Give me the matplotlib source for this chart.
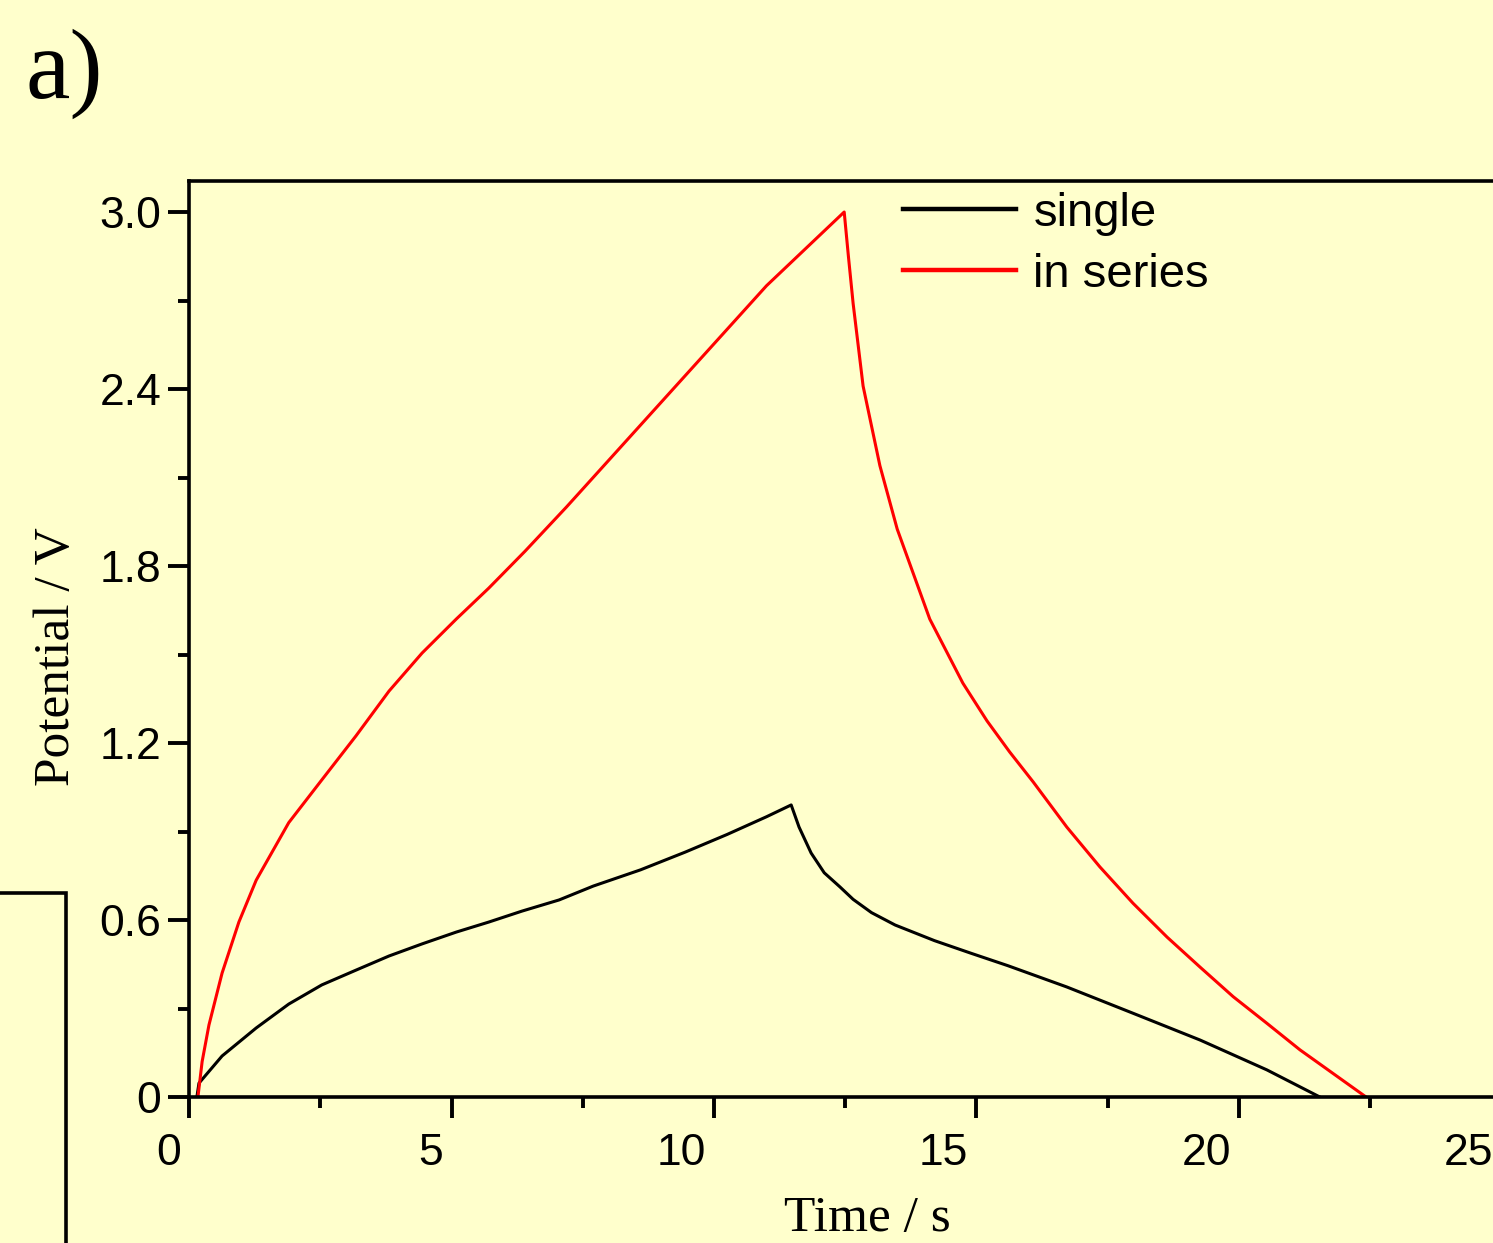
import matplotlib
matplotlib.use("Agg")
import matplotlib.pyplot as plt
from matplotlib.patches import Rectangle
from matplotlib.ticker import MultipleLocator
from matplotlib.transforms import ScaledTranslation

# time [s] / potential [V]
single_t = [0.15, 0.19, 0.63, 1.28, 1.9, 2.53, 3.18, 3.81, 4.44, 5.09, 5.71, 6.34, 7.05, 7.7,
            8.6, 9.45, 10.25, 11.0, 11.47, 11.62, 11.85, 12.1, 12.4, 12.65, 13.0, 13.45,
            14.2, 14.9, 15.6, 16.72, 17.98, 19.26, 20.53, 21.54]
single_v = [0.0, 0.047, 0.139, 0.234, 0.315, 0.38, 0.43, 0.478, 0.519, 0.559, 0.593, 0.63, 0.668,
            0.715, 0.77, 0.83, 0.89, 0.95, 0.99, 0.915, 0.827, 0.76, 0.712, 0.67, 0.625, 0.583,
            0.53, 0.487, 0.445, 0.373, 0.284, 0.193, 0.092, 0.0]

series_t = [0.17, 0.25, 0.38, 0.63, 0.95, 1.28, 1.9, 2.53, 3.18, 3.81, 4.44, 5.09, 5.71, 6.4,
            7.19, 8.46, 9.73, 11.0, 12.48, 12.56, 12.65, 12.84, 13.16, 13.49, 14.11, 14.74,
            15.2, 15.63, 16.08, 16.72, 17.35, 17.98, 18.63, 19.26, 19.89, 20.53, 21.16, 21.79,
            22.42]
series_v = [0.0, 0.12, 0.244, 0.42, 0.593, 0.735, 0.93, 1.075, 1.224, 1.376, 1.505, 1.62, 1.725,
            1.85, 2.0, 2.25, 2.5, 2.75, 3.0, 2.85, 2.69, 2.41, 2.14, 1.925, 1.62, 1.403,
            1.275, 1.17, 1.068, 0.915, 0.78, 0.657, 0.542, 0.44, 0.34, 0.25, 0.16, 0.08, 0.0]

y_ticks = [0, 0.6, 1.2, 1.8, 2.4, 3.0]
y_labels = ["0", "0.6", "1.2", "1.8", "2.4", "3.0"]
x_ticks = [0, 5, 10, 15, 20, 25]

bg = "#ffffcc"
W, H = 1493, 1243
fig = plt.figure(figsize=(W / 100, H / 100), dpi=100, facecolor=bg)

x_max = 25.5
px_per_s = 52.5
ax_w = x_max * px_per_s
ax = fig.add_axes([189 / W, 1 - 1097 / H, ax_w / W, (1097 - 181) / H])
ax.set_facecolor(bg)

ax.plot(single_t, single_v, color="black", lw=2.2, label="single")
ax.plot(series_t, series_v, color="#ff0000", lw=2.2, label="in series")

ax.set_xlim(0, x_max)
ax.set_ylim(0, (1097 - 181) / 295)

for s in ax.spines.values():
    s.set_linewidth(2.6)

ax.set_xticks(x_ticks)
ax.set_xticklabels([str(v) for v in x_ticks], ha="right")
ax.set_yticks(y_ticks)
ax.set_yticklabels(y_labels)
ax.xaxis.set_minor_locator(MultipleLocator(2.5))
ax.yaxis.set_minor_locator(MultipleLocator(0.3))
ax.tick_params(which="major", direction="out", length=15, width=2.8)
ax.tick_params(which="minor", direction="out", length=8, width=2.8)
ax.tick_params(axis="x", which="major", pad=11)
ax.tick_params(axis="y", which="major", pad=5)
shift = ScaledTranslation(-0.08, 0, fig.dpi_scale_trans)
for lab in ax.get_xticklabels():
    lab.set_transform(lab.get_transform() + shift)
for lab in ax.get_xticklabels() + ax.get_yticklabels():
    lab.set_fontfamily("Liberation Sans")
    lab.set_fontsize(32)

ax.set_xlabel("Time / s", family="Liberation Serif", fontsize=37)
ax.set_ylabel("Potential / V", family="Liberation Serif", fontsize=37)
ax.xaxis.set_label_coords((867 - 189) / ax_w, (1097 - 1196) / 916)
ax.yaxis.set_label_coords((80 - 189) / ax_w, (1097 - 657) / 916)

ax.legend(loc="upper left", bbox_to_anchor=((903 - 189) / ax_w, (1097 - 192) / 916),
          frameon=False, borderpad=0, borderaxespad=0, handlelength=2.4,
          handletextpad=0.36, labelspacing=0.36,
          prop={"family": "Liberation Sans", "size": 34})
for line in ax.get_legend().get_lines():
    line.set_linewidth(3.2)

fig.text(25 / W, 1 - 98 / H, "a)", family="Liberation Serif", fontsize=72,
         va="baseline", ha="left")

fig.patches.append(Rectangle((-0.02, -0.02), 66 / W + 0.02, 1 - 893 / H + 0.02,
                             transform=fig.transFigure, fill=False,
                             edgecolor="black", lw=2.6))

fig.savefig("out.png", dpi=100, facecolor=bg)
